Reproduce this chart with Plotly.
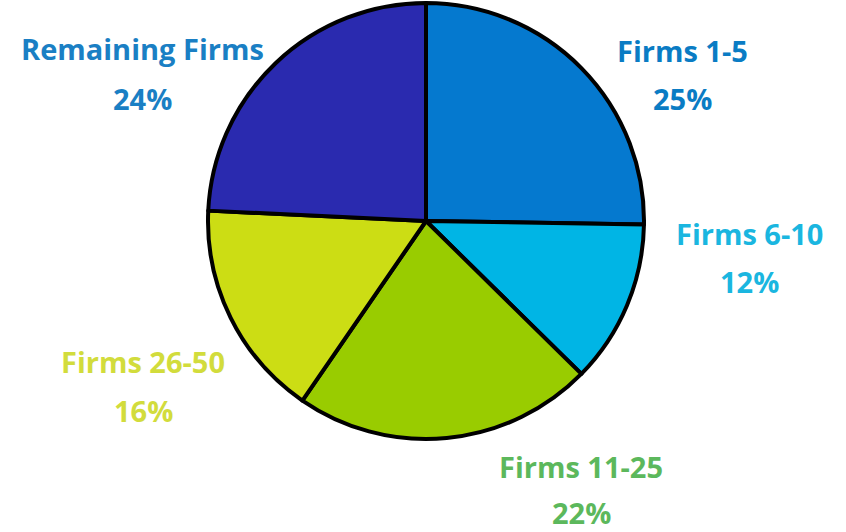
import plotly.graph_objects as go

W, H = 846, 532

# data
segments = ['Firms 1-5', 'Firms 6-10', 'Firms 11-25', 'Firms 26-50', 'Remaining Firms']
shares = [25, 12, 22, 16, 24]
slice_colors = ['#0579CF', '#00B5E5', '#99CC00', '#CCDD14', '#2A2AAF']
label_colors = ['#0A7CC4', '#1AB6E0', '#5CB85C', '#D2DC3C', '#1A7FC4']

# label anchors in pixels: (x, y of name line, y of percent line)
label_pos = [(682, 50, 99), (749, 233, 281), (581, 466, 512), (143, 361, 410), (142, 49, 98)]

fig = go.Figure(go.Pie(
    labels=segments,
    values=shares,
    sort=False,
    direction='clockwise',
    rotation=0,
    marker=dict(colors=slice_colors, line=dict(color='black', width=4)),
    textinfo='none',
    hoverinfo='label+percent',
    showlegend=False,
    domain=dict(x=[208 / W, 644 / W], y=[1 - 439 / H, 1 - 3 / H]),
))

font_family = '"Open Sans", "DejaVu Sans", sans-serif'
for name, val, col, (px_, y1, y2) in zip(segments, shares, label_colors, label_pos):
    for txt, yy in [(name, y1), (f'{val}%', y2)]:
        fig.add_annotation(
            x=px_ / W, y=1 - yy / H, xref='paper', yref='paper',
            text=f'<b>{txt}</b>', showarrow=False,
            xanchor='center', yanchor='middle',
            font=dict(family=font_family, size=29, color=col),
        )

fig.update_layout(
    width=W, height=H,
    margin=dict(l=0, r=0, t=0, b=0),
    paper_bgcolor='white',
    plot_bgcolor='white',
)

# drop the default page margin so the figure sits at the window's corner
fig.write_html('out.html', config={'displayModeBar': False},
               post_script="document.body.style.margin='0';")
